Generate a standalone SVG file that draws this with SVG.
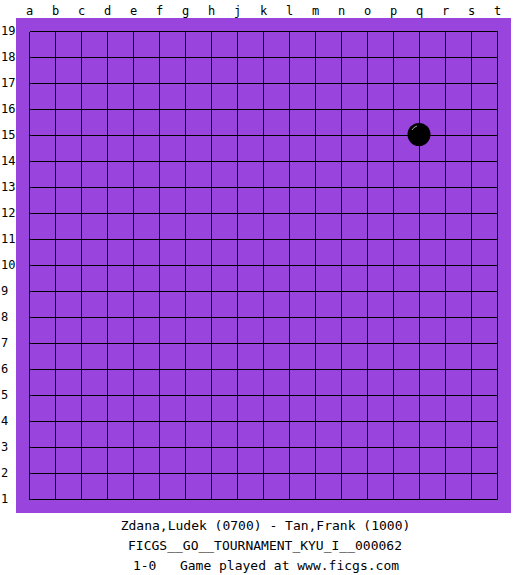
<svg xmlns="http://www.w3.org/2000/svg" width="525" height="575" viewBox="0 0 525 575">
<style>
.lbl{font-family:"DejaVu Sans Mono","Liberation Mono",monospace;font-size:12px;fill:#000}
.cap{font-family:"DejaVu Sans Mono","Liberation Mono",monospace;font-size:13px;fill:#000;text-anchor:middle}
.g{stroke:#000;stroke-width:1;fill:none;shape-rendering:crispEdges}
</style>
<rect width="525" height="575" fill="#fff"/>
<g id="board">
<rect x="16" y="18" width="495" height="495" fill="#9944dd"/>
<path class="g" d="M29.5 31.5V499.5M55.5 31.5V499.5M81.5 31.5V499.5M107.5 31.5V499.5M133.5 31.5V499.5M159.5 31.5V499.5M185.5 31.5V499.5M211.5 31.5V499.5M237.5 31.5V499.5M263.5 31.5V499.5M289.5 31.5V499.5M315.5 31.5V499.5M341.5 31.5V499.5M367.5 31.5V499.5M393.5 31.5V499.5M419.5 31.5V499.5M445.5 31.5V499.5M471.5 31.5V499.5M497.5 31.5V499.5
M29.5 31.5H497.5M29.5 57.5H497.5M29.5 83.5H497.5M29.5 109.5H497.5M29.5 135.5H497.5M29.5 161.5H497.5M29.5 187.5H497.5M29.5 213.5H497.5M29.5 239.5H497.5M29.5 265.5H497.5M29.5 291.5H497.5M29.5 317.5H497.5M29.5 343.5H497.5M29.5 369.5H497.5M29.5 395.5H497.5M29.5 421.5H497.5M29.5 447.5H497.5M29.5 473.5H497.5M29.5 499.5H497.5"/>
</g>
<g id="stone-q15">
<circle cx="419" cy="134.5" r="11.5" fill="#000"/>
<path d="M412 130 A8 8 0 0 1 417 126" stroke="#fff" stroke-width="0.8" fill="none" opacity="0.8"/>
</g>
<g id="col-labels" class="lbl" text-anchor="middle">
<text x="29.5" y="15">a</text><text x="55.5" y="15">b</text><text x="81.5" y="15">c</text><text x="107.5" y="15">d</text><text x="133.5" y="15">e</text><text x="159.5" y="15">f</text><text x="185.5" y="15">g</text><text x="211.5" y="15">h</text><text x="237.5" y="15">j</text><text x="263.5" y="15">k</text><text x="289.5" y="15">l</text><text x="315.5" y="15">m</text><text x="341.5" y="15">n</text><text x="367.5" y="15">o</text><text x="393.5" y="15">p</text><text x="419.5" y="15">q</text><text x="445.5" y="15">r</text><text x="471.5" y="15">s</text><text x="497.5" y="15">t</text>
</g>
<g id="row-labels" class="lbl">
<text x="1" y="35">19</text><text x="1" y="61">18</text><text x="1" y="87">17</text><text x="1" y="113">16</text><text x="1" y="139">15</text><text x="1" y="165">14</text><text x="1" y="191">13</text><text x="1" y="217">12</text><text x="1" y="243">11</text><text x="1" y="269">10</text><text x="1" y="295">9</text><text x="1" y="321">8</text><text x="1" y="347">7</text><text x="1" y="373">6</text><text x="1" y="399">5</text><text x="1" y="425">4</text><text x="1" y="451">3</text><text x="1" y="477">2</text><text x="1" y="503">1</text>
</g>
<g id="caption" class="cap">
<text x="265.5" y="530">Zdana,Ludek (0700) - Tan,Frank (1000)</text>
<text x="265" y="550">FICGS__GO__TOURNAMENT_KYU_I__000062</text>
<text x="266" y="570" xml:space="preserve">1-0   Game played at www.ficgs.com</text>
</g>
</svg>
